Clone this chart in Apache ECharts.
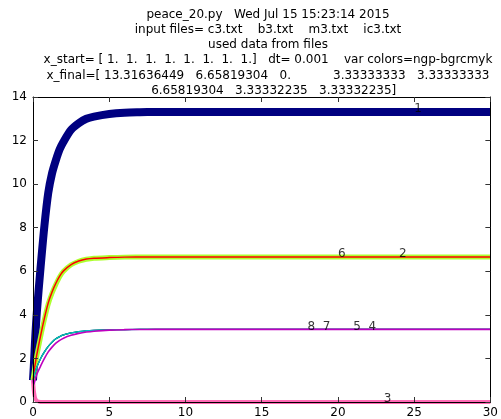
<!DOCTYPE html>
<html>
<head>
<meta charset="utf-8">
<script src="https://cdn.jsdelivr.net/npm/echarts@6/dist/echarts.min.js"></script>
<style>
  html, body { margin: 0; padding: 0; background: #fff; }
</style>
</head>
<body>
<div id="chart" style="width: 501px; height: 419px"></div>
<script>
// time grid used for every variable
const tVals = [0, 0.05, 0.1, 0.15, 0.25, 0.5, 0.75, 1, 1.25, 1.5, 1.75, 2, 2.5, 3, 3.5, 4, 5, 6, 7, 8, 10, 15, 20, 30];

const var1 = [1, 1.6, 2.3, 3.0, 4.1, 6.2, 8.1, 9.6, 10.5, 11.1, 11.6, 11.95, 12.5, 12.8, 13.0, 13.1, 13.22, 13.28, 13.3, 13.31, 13.316, 13.316, 13.316, 13.316];
const var2 = [1, 1.25, 1.5, 1.72, 2.12, 3.0, 3.8, 4.5, 5.0, 5.4, 5.75, 6.0, 6.3, 6.46, 6.55, 6.6, 6.63, 6.65, 6.655, 6.658, 6.658, 6.658, 6.658, 6.658];
const var3 = [1, 0.55, 0.3, 0.16, 0.05, 0.005, 0, 0, 0, 0, 0, 0, 0, 0, 0, 0, 0, 0, 0, 0, 0, 0, 0, 0];
const var4 = [1, 1.12, 1.25, 1.38, 1.6, 2.0, 2.3, 2.55, 2.75, 2.9, 3.0, 3.08, 3.17, 3.23, 3.27, 3.29, 3.31, 3.325, 3.33, 3.333, 3.333, 3.333, 3.333, 3.333];
const var5 = [1, 1.12, 1.25, 1.38, 1.6, 2.0, 2.3, 2.55, 2.75, 2.9, 3.0, 3.08, 3.17, 3.23, 3.27, 3.29, 3.31, 3.325, 3.33, 3.333, 3.333, 3.333, 3.333, 3.333];
const var6 = [1, 1.27, 1.53, 1.76, 2.17, 3.05, 3.85, 4.55, 5.05, 5.45, 5.78, 6.02, 6.31, 6.47, 6.56, 6.6, 6.63, 6.65, 6.655, 6.658, 6.658, 6.658, 6.658, 6.658];
const var7 = [1, 1.12, 1.25, 1.38, 1.6, 2.0, 2.3, 2.55, 2.75, 2.9, 3.0, 3.08, 3.17, 3.23, 3.27, 3.29, 3.31, 3.325, 3.33, 3.333, 3.333, 3.333, 3.333, 3.333];
const var8 = [1, 0.82, 0.92, 1.05, 1.28, 1.65, 2.0, 2.3, 2.52, 2.7, 2.83, 2.93, 3.06, 3.15, 3.21, 3.25, 3.3, 3.32, 3.328, 3.332, 3.333, 3.333, 3.333, 3.333];

const colors = ["#000080", "#adff2f", "#ff69b4", "#0000ff", "#008000", "#ff0000", "#00bfbf", "#bf00bf"];
const widths = [8, 5, 4, 1.2, 1.2, 1.5, 1.3, 1.6];

// curve labels: name, x, y
const labelNames = ["1", "2", "3", "4", "5", "6", "7", "8"];
const labelX = [25, 24, 23, 22, 21, 20, 19, 18];
const labelY = [13.316, 6.658, 0, 3.333, 3.333, 6.658, 3.333, 3.333];

const titleText = [
  "peace_20.py   Wed Jul 15 15:23:14 2015",
  "input files= c3.txt    b3.txt    m3.txt    ic3.txt",
  "used data from files",
  "x_start= [ 1.  1.  1.  1.  1.  1.  1.  1.]   dt= 0.001    var colors=ngp-bgrcmyk",
  "x_final=[ 13.31636449   6.65819304   0.           3.33333333   3.33333333",
  "   6.65819304   3.33332235   3.33332235]",
].join("\n");

const allVars = [var1, var2, var3, var4, var5, var6, var7, var8];

const chart = echarts.init(document.getElementById("chart"));

const axisCommon = {
  z: 10,
  axisLine: { show: true, onZero: false, lineStyle: { color: "#000", width: 1 } },
  axisTick: { show: true, inside: true, length: 5, lineStyle: { color: "#333" } },
  splitLine: { show: false },
};
const labelFont = { color: "#000", fontFamily: "DejaVu Sans", fontSize: 12 };

const series = allVars.map((v, i) => ({
  type: "line",
  data: tVals.map((t, k) => [t, v[k]]),
  smooth: 0.3,
  showSymbol: false,
  lineStyle: { color: colors[i], width: widths[i], join: "round", cap: "butt" },
  itemStyle: { color: colors[i] },
  z: 2 + i,
}));

series.push({
  type: "scatter",
  symbolSize: 0,
  data: labelNames.map((n, i) => [labelX[i], labelY[i], n]),
  label: {
    show: true,
    position: [0, 0],
    align: "left",
    verticalAlign: "bottom",
    offset: [0, 3],
    formatter: (p) => p.value[2],
    ...labelFont,
  },
  z: 20,
});

chart.setOption({
  animation: false,
  title: {
    text: titleText,
    left: 263,
    top: 2,
    textAlign: "center",
    textStyle: { ...labelFont, fontWeight: "normal", lineHeight: 15.2 },
  },
  grid: { left: 33, right: 7, top: 97, bottom: 16, containLabel: false },
  xAxis: [
    { type: "value", min: 0, max: 30, interval: 5, position: "bottom", ...axisCommon,
      axisLabel: { ...labelFont, margin: 5 } },
    { type: "value", min: 0, max: 30, interval: 5, position: "top", ...axisCommon,
      axisLabel: { show: false } },
  ],
  yAxis: [
    { type: "value", min: 0, max: 14, interval: 2, position: "left", ...axisCommon,
      axisLabel: { ...labelFont, margin: 6 } },
    { type: "value", min: 0, max: 14, interval: 2, position: "right", ...axisCommon,
      axisLabel: { show: false } },
  ],
  series: series,
});
</script>
</body>
</html>
